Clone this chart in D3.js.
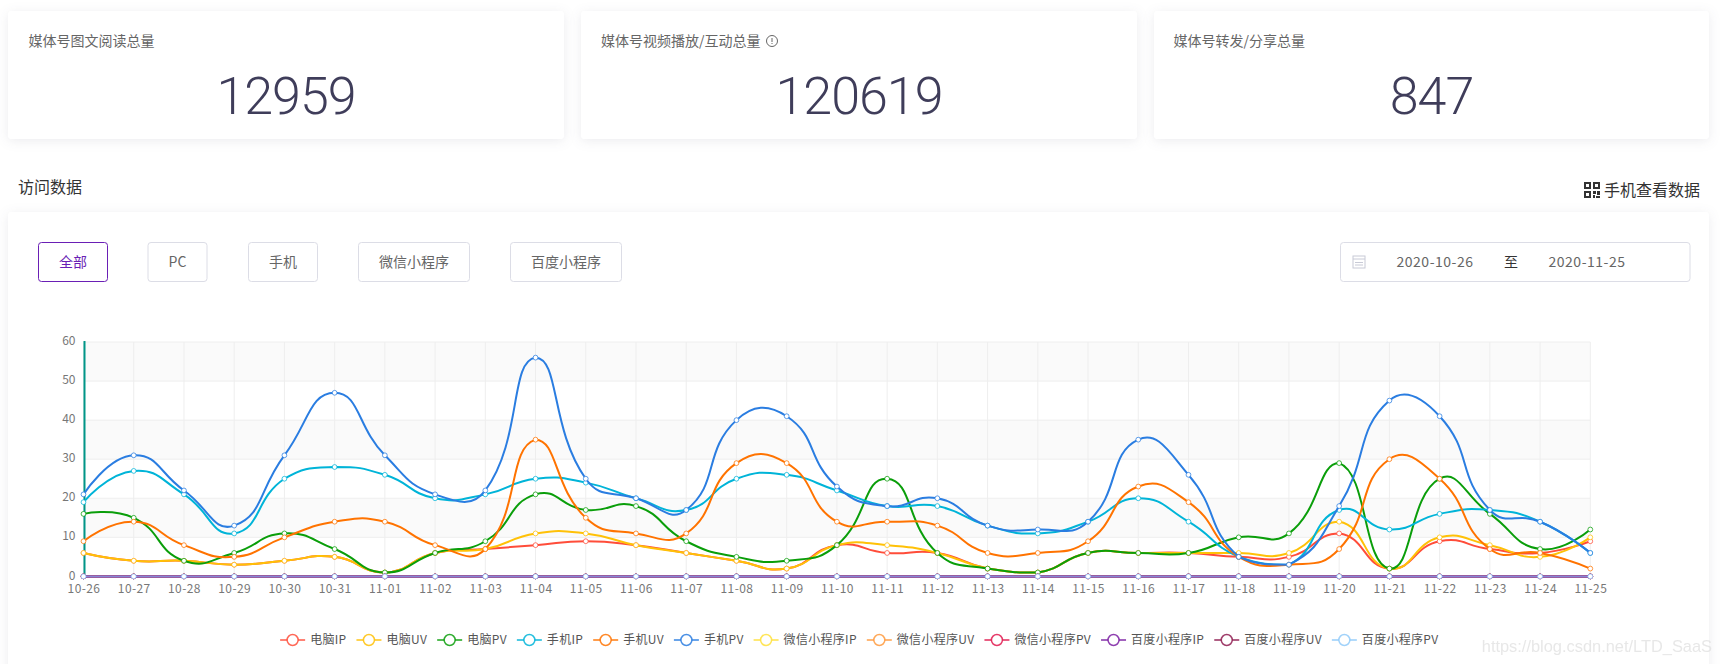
<!DOCTYPE html>
<html>
<head>
<meta charset="utf-8">
<script src="https://cdn.jsdelivr.net/npm/d3@7"></script>
<style>
  html, body { margin: 0; padding: 0; background: #fff; overflow: hidden; }
  svg { display: block; font-family: "Noto Sans CJK SC", "Noto Sans", sans-serif; }
  .card { fill: #fff; filter: drop-shadow(0 2px 6px rgba(40,40,80,0.09)); }
</style>
</head>
<body>
<div id="scene"></div>
<script>
// Chart data
const days = ["10-26","10-27","10-28","10-29","10-30","10-31","11-01","11-02","11-03","11-04","11-05","11-06","11-07","11-08","11-09","11-10","11-11","11-12","11-13","11-14","11-15","11-16","11-17","11-18","11-19","11-20","11-21","11-22","11-23","11-24","11-25"];
const pcIP  = [6,4,4,3,4,5,1,6,7,8,9,8,6,4,2,8,6,6,2,1,6,6,6,5,5,11,2,9,7,6,9];
const pcUV  = [6,4,4,3,4,5,1,6,7,11,11,8,6,4,2,8,8,6,2,1,6,6,6,6,6,14,2,10,8,5,10];
const pcPV  = [16,15,4,6,11,7,1,6,9,21,17,18,9,5,4,8,25,6,2,1,6,6,6,10,11,29,2,25,16,7,12];
const mobIP = [19,27,21,11,25,28,26,20,21,25,24,20,17,25,26,22,18,18,13,11,14,20,14,5,3,17,12,16,17,14,6];
const mobUV = [9,14,8,5,10,14,14,8,7,35,15,11,11,29,29,14,14,13,6,6,9,23,19,5,3,7,30,25,7,6,2];
const mobPV = [21,31,22,13,31,47,31,21,22,56,25,20,17,40,41,23,18,20,13,12,14,35,26,5,3,18,45,41,17,14,6];
const zeros = days.map(() => 0);

const seriesNames  = ["电脑IP","电脑UV","电脑PV","手机IP","手机UV","手机PV","微信小程序IP","微信小程序UV","微信小程序PV","百度小程序IP","百度小程序UV","百度小程序PV"];
const seriesValues = [pcIP, pcUV, pcPV, mobIP, mobUV, mobPV, zeros, zeros, zeros, zeros, zeros, zeros];
const seriesColors = ["#ff4d3a","#ffc107","#0a9e0a","#00b4d8","#ff7300","#2a7de1","#ffe03b","#ff9a3d","#e0194f","#7b1fa2","#8e1b50","#90caf9"];

const statLabels = ["媒体号图文阅读总量","媒体号视频播放/互动总量","媒体号转发/分享总量"];
const statValues = ["12959","120619","847"];
const tabLabels  = ["全部","PC","手机","微信小程序","百度小程序"];

const width = 1721, height = 664;
const svg = d3.select("#scene").append("svg").attr("width", width).attr("height", height);

// Top stat cards
const cardBoxes = [[8,564,28.5],[581,1137,601],[1154,1709,1173.5]];
cardBoxes.forEach((b, i) => {
  svg.append("rect").attr("class","card").attr("x",b[0]).attr("y",11).attr("width",b[1]-b[0]).attr("height",128).attr("rx",3);
  svg.append("text").attr("x",b[2]).attr("y",46).attr("font-size","14px").attr("fill","#666").text(statLabels[i]);
  svg.append("text").attr("x",(b[0]+b[1])/2).attr("y",114).attr("text-anchor","middle")
    .attr("font-size","52px").attr("font-weight",300).attr("letter-spacing","-1px").attr("fill","#3f3d5a")
    .style("font-family","Roboto, 'Open Sans', sans-serif").text(statValues[i]);
});

// little info icon after the second label
const info = svg.append("g").attr("transform","translate(772,41)").attr("stroke","#666").attr("fill","none");
info.append("circle").attr("r",5.5);
info.append("line").attr("y1",-3).attr("y2",1);
info.append("line").attr("y1",2).attr("y2",3);

// Section header
svg.append("text").attr("x",18).attr("y",193).attr("font-size","16px").attr("fill","#333").text("访问数据");
svg.append("text").attr("x",1604).attr("y",196).attr("font-size","16px").attr("fill","#333").text("手机查看数据");
const qr = svg.append("g").attr("transform","translate(1584,182)").attr("fill","#333");
[[0,0],[9,0],[0,9]].forEach(p => {
  qr.append("rect").attr("x",p[0]).attr("y",p[1]).attr("width",7).attr("height",7);
  qr.append("rect").attr("x",p[0]+2).attr("y",p[1]+2).attr("width",3).attr("height",3).attr("fill","#fff");
});
[[9,9,3,3],[13,9,3,4],[9,13,2,3],[12,14,4,2]].forEach(r => qr.append("rect").attr("x",r[0]).attr("y",r[1]).attr("width",r[2]).attr("height",r[3]));

// Main panel
svg.append("rect").attr("class","card").attr("x",8).attr("y",212).attr("width",1701).attr("height",480).attr("rx",3);

// Filter tabs
const tabBoxes = [[38.5,107.5],[148,207],[248.5,317.5],[358.5,469.5],[510.5,621.5]];
tabLabels.forEach((t, i) => {
  const b = tabBoxes[i], active = i === 0;
  svg.append("rect").attr("x",b[0]).attr("y",242.5).attr("width",b[1]-b[0]).attr("height",39).attr("rx",3)
    .attr("fill","#fff").attr("stroke",active ? "#6a1fb5" : "#dcdde6");
  svg.append("text").attr("x",(b[0]+b[1])/2).attr("y",267).attr("text-anchor","middle")
    .attr("font-size","14px").attr("fill",active ? "#6a1fb5" : "#666").text(t);
});

// Date range box
svg.append("rect").attr("x",1340.5).attr("y",242.5).attr("width",349.5).attr("height",39).attr("rx",3).attr("fill","#fff").attr("stroke","#dcdde6");
const cal = svg.append("g").attr("transform","translate(1353,256)").attr("fill","none").attr("stroke","#c8cad6");
cal.append("rect").attr("width",12).attr("height",12);
cal.append("line").attr("x1",0).attr("x2",12).attr("y1",3).attr("y2",3);
cal.append("line").attr("x1",2).attr("x2",10).attr("y1",6.5).attr("y2",6.5);
cal.append("line").attr("x1",2).attr("x2",10).attr("y1",9).attr("y2",9);
[["2020-10-26",1435],["至",1511],["2020-11-25",1587]].forEach(d => {
  svg.append("text").attr("x",d[1]).attr("y",267).attr("text-anchor","middle").attr("font-size","14px")
    .attr("letter-spacing",d[0]==="至" ? null : "0.5px")
    .attr("fill",d[0]==="至" ? "#333" : "#666").text(d[0]);
});

// Scales
const x = d3.scalePoint().domain(days).range([83.5,1590.3]);
const y = d3.scaleLinear().domain([0,60]).range([576.4,342]);

// Alternating bands, then grid
const yTicks = y.ticks(6);
d3.pairs(yTicks).forEach((p, i) => {
  svg.append("rect").attr("x",x.range()[0]).attr("width",x.range()[1]-x.range()[0])
    .attr("y",y(p[1])).attr("height",y(p[0])-y(p[1]))
    .attr("fill",i % 2 === 1 ? "#fafafa" : "#fff");
});
svg.selectAll(".hline").data(yTicks).enter().append("line")
  .attr("x1",x.range()[0]).attr("x2",x.range()[1]).attr("y1",d => y(d)).attr("y2",d => y(d))
  .attr("stroke","#eee");
svg.selectAll(".vline").data(days).enter().append("line")
  .attr("x1",d => x(d)).attr("x2",d => x(d)).attr("y1",y(60)).attr("y2",y(0))
  .attr("stroke","#eee");

// Axes
const yAxis = svg.append("g").attr("transform",`translate(${x.range()[0]},0)`)
  .call(d3.axisLeft(y).tickValues(yTicks).tickSize(0).tickPadding(8));
const xAxis = svg.append("g").attr("transform",`translate(0,${y(0)})`)
  .call(d3.axisBottom(x).tickSize(0).tickPadding(8));
[yAxis, xAxis].forEach(a => {
  a.select(".domain").remove();
  a.selectAll("text").attr("fill","#777").attr("font-size","12px").style("font-family","'Noto Sans CJK SC', sans-serif");
});
yAxis.selectAll("text").attr("dy","0.22em");
xAxis.selectAll("text").attr("letter-spacing","0.4px");
svg.append("line").attr("x1",84.5).attr("x2",84.5).attr("y1",y(60)-1).attr("y2",y(0)).attr("stroke","#009688").attr("stroke-width",2);

// ECharts style smooth line: tangents from neighbours, control points kept in the series box
function smoothPath(pts, smooth = 0.5) {
  const xs = d3.extent(pts, p => p[0]), ys = d3.extent(pts, p => p[1]);
  const clamp = (v, e) => Math.min(e[1], Math.max(e[0], v));
  const path = d3.path();
  path.moveTo(pts[0][0], pts[0][1]);
  let cp0 = pts[0];
  for (let i = 1; i < pts.length; i++) {
    const p = pts[i], prev = pts[i-1], next = pts[i+1];
    let cp1 = p, nextCp0 = p;
    if (next) {
      const vx = next[0]-prev[0], vy = next[1]-prev[1];
      const d0 = Math.hypot(p[0]-prev[0], p[1]-prev[1]), d1 = Math.hypot(next[0]-p[0], next[1]-p[1]);
      const r = d0 + d1 === 0 ? 0.5 : d1/(d0+d1);
      cp1 = [clamp(p[0]-vx*smooth*(1-r), xs), clamp(p[1]-vy*smooth*(1-r), ys)];
      nextCp0 = [clamp(p[0]+vx*smooth*r, xs), clamp(p[1]+vy*smooth*r, ys)];
    }
    path.bezierCurveTo(cp0[0],cp0[1],cp1[0],cp1[1],p[0],p[1]);
    cp0 = nextCp0;
  }
  return path.toString();
}

// Lines and markers. The zero line reads purple-blue, so purple goes right under a see-through last line
const drawOrder = [0,1,2,3,4,5,6,7,8,10,9,11];
drawOrder.forEach(i => {
  const pts = seriesValues[i].map((v, k) => [x(days[k]), y(v)]);
  const g = svg.append("g");
  g.append("path").attr("d",smoothPath(pts)).attr("fill","none").attr("stroke",seriesColors[i])
    .attr("stroke-width",2).attr("stroke-opacity",i === 11 ? 0.6 : 1);
  g.selectAll("circle").data(seriesValues[i]).enter().append("circle")
    .attr("cx",(d,k) => x(days[k])).attr("cy",d => y(d)).attr("r",2.4)
    .attr("fill","#fff").attr("stroke",seriesColors[i]).attr("stroke-opacity",0.75).attr("stroke-width",1);
});

// Legend, laid out from measured text then centred
const legend = svg.append("g").attr("transform","translate(0,640)");
const legendItems = seriesNames.map((name, i) => {
  const g = legend.append("g");
  g.append("line").attr("x1",0).attr("x2",25).attr("stroke",seriesColors[i]).attr("stroke-opacity",0.7).attr("stroke-width",2);
  g.append("circle").attr("cx",12.5).attr("r",5.5).attr("fill","#fff").attr("stroke",seriesColors[i]).attr("stroke-opacity",0.85).attr("stroke-width",1.5);
  const t = g.append("text").attr("x",30).attr("y",4).attr("font-size","12px").attr("letter-spacing","0.3px").attr("fill","#555").text(name);
  return {g, w: 30 + t.node().getComputedTextLength()};
});
const totalW = d3.sum(legendItems, d => d.w) + 10*(legendItems.length-1);
let lx = 859.3 - totalW/2;
legendItems.forEach(d => { d.g.attr("transform",`translate(${lx},0)`); lx += d.w + 10; });

// Watermark
svg.append("text").attr("x",1712).attr("y",652).attr("text-anchor","end").attr("font-size","16.4px")
  .attr("fill","#e2e2e2").attr("opacity",0.8).style("font-family","'Liberation Sans', sans-serif").text("https://blog.csdn.net/LTD_SaaS");
</script>
</body>
</html>
